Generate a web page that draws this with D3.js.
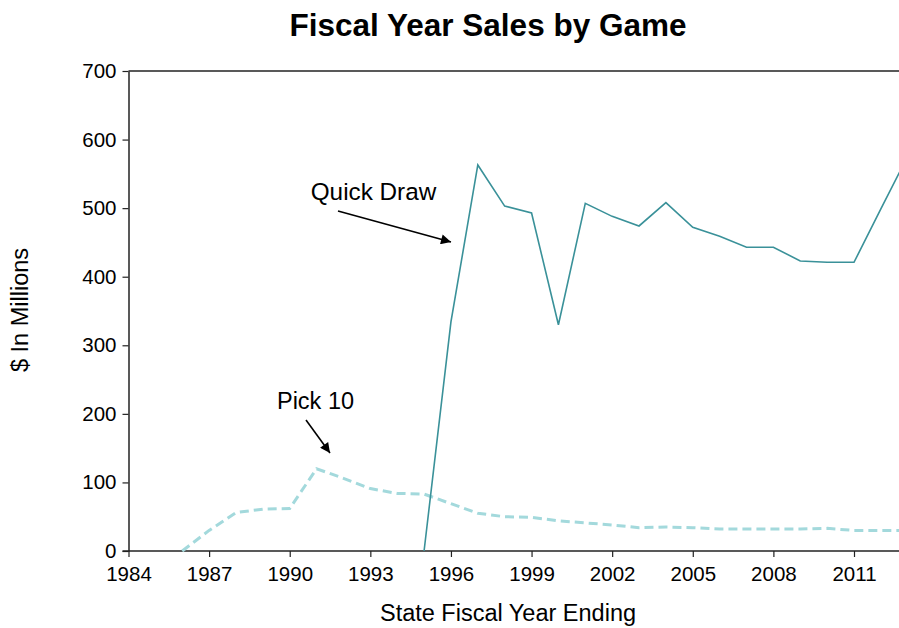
<!DOCTYPE html>
<html>
<head>
<meta charset="utf-8">
<script src="https://cdn.jsdelivr.net/npm/d3@7"></script>
<style>
  html, body { margin: 0; padding: 0; background: #fff; }
  svg { display: block; }
  text { font-family: "Liberation Sans", Arial, sans-serif; fill: #000; }
</style>
</head>
<body>
<svg id="chart" width="899" height="628"></svg>
<script>
// ---- data ----
const quickDrawYears  = [1995, 1996, 1997, 1998, 1999, 2000, 2001, 2002, 2003, 2004, 2005, 2006, 2007, 2008, 2009, 2010, 2011, 2012, 2013];
const quickDrawValues = [0, 334, 563, 503, 493, 330, 507, 488, 474, 508, 472, 459, 443, 443, 423, 421, 421, 499, 576];

const pick10Years  = [1986, 1987, 1988, 1989, 1990, 1991, 1992, 1993, 1994, 1995, 1996, 1997, 1998, 1999, 2000, 2001, 2002, 2003, 2004, 2005, 2006, 2007, 2008, 2009, 2010, 2011, 2012, 2013];
const pick10Values = [0, 30, 56, 61, 62, 120, 106, 91, 84, 83, 69, 55, 50, 49, 44, 41, 38, 34, 35, 34, 32, 32, 32, 32, 33, 30, 30, 30];

const xTickValues = [1984, 1987, 1990, 1993, 1996, 1999, 2002, 2005, 2008, 2011];
const yTickValues = [0, 100, 200, 300, 400, 500, 600, 700];

const titleText = "Fiscal Year Sales by Game";
const xTitle = "State Fiscal Year Ending";
const yTitle = "$ In Millions";

// ---- layout ----
const W = 899, H = 628;
const svg = d3.select("#chart");

const x = d3.scaleLinear().domain([1984, 2011]).range([128.5, 854]);
const y = d3.scaleLinear().domain([0, 700]).range([551, 71]);

svg.append("defs").append("clipPath").attr("id", "plotclip")
  .append("rect").attr("x", 128).attr("y", 60).attr("width", W - 128).attr("height", 500);

// top border
svg.append("line")
  .attr("x1", x(1984)).attr("x2", W)
  .attr("y1", y(700)).attr("y2", y(700))
  .attr("stroke", "#222").attr("stroke-width", 1.3);

// y axis
const yAxis = svg.append("g")
  .attr("transform", `translate(${x(1984)},0)`)
  .call(d3.axisLeft(y).tickValues(yTickValues).tickSize(6).tickSizeOuter(0).tickPadding(6));
yAxis.select(".domain").attr("stroke", "#222").attr("stroke-width", 1.5);
yAxis.selectAll(".tick line").attr("stroke", "#222").attr("stroke-width", 1.2);
yAxis.selectAll(".tick text").style("font-size", "20.5px").style("font-family", "'Liberation Sans', Arial, sans-serif").attr("fill", "#000");

// x axis
const xAxis = svg.append("g")
  .attr("transform", `translate(0,${y(0)})`)
  .call(d3.axisBottom(x).tickValues(xTickValues).tickFormat(d3.format("d")).tickSize(6).tickSizeOuter(0).tickPadding(9));
xAxis.select(".domain").remove();
xAxis.append("line").attr("x1", x(1984) - 6).attr("x2", W).attr("y1", 0).attr("y2", 0)
  .attr("stroke", "#222").attr("stroke-width", 1.5);
xAxis.selectAll(".tick line").attr("stroke", "#222").attr("stroke-width", 1.2);
xAxis.selectAll(".tick text").style("font-size", "20.5px").style("font-family", "'Liberation Sans', Arial, sans-serif").attr("fill", "#000");

// lines
const plot = svg.append("g").attr("clip-path", "url(#plotclip)");
const pick10 = pick10Years.map((yr, i) => [yr, pick10Values[i]]);
const quick = quickDrawYears.map((yr, i) => [yr, quickDrawValues[i]]);
const line = d3.line().x(d => x(d[0])).y(d => y(d[1]));

plot.append("path").datum(pick10)
  .attr("d", line)
  .attr("fill", "none")
  .attr("stroke", "#a3d9dc")
  .attr("stroke-width", 3)
  .attr("stroke-dasharray", "9,5");

plot.append("path").datum(quick)
  .attr("d", line)
  .attr("fill", "none")
  .attr("stroke", "#3a9199")
  .attr("stroke-width", 1.6)
  .attr("stroke-linejoin", "miter");

// arrow marker
svg.select("defs").append("marker")
  .attr("id", "arrow").attr("viewBox", "0 0 10 10")
  .attr("refX", 10).attr("refY", 5)
  .attr("markerWidth", 12).attr("markerHeight", 10)
  .attr("markerUnits", "userSpaceOnUse")
  .attr("orient", "auto")
  .append("path").attr("d", "M0,0 L10,5 L0,10 z").attr("fill", "#000");

// annotations
svg.append("text").attr("x", 373.5).attr("y", 200).attr("text-anchor", "middle")
  .style("font-size", "24.3px").text("Quick Draw");
svg.append("line").attr("x1", 338).attr("y1", 211).attr("x2", 451).attr("y2", 242)
  .attr("stroke", "#000").attr("stroke-width", 1.6).attr("marker-end", "url(#arrow)");

svg.append("text").attr("x", 315.5).attr("y", 409).attr("text-anchor", "middle")
  .style("font-size", "23.5px").text("Pick 10");
svg.append("line").attr("x1", 306).attr("y1", 420).attr("x2", 330).attr("y2", 453)
  .attr("stroke", "#000").attr("stroke-width", 1.6).attr("marker-end", "url(#arrow)");

// titles
svg.append("text").attr("x", 488).attr("y", 36).attr("text-anchor", "middle")
  .style("font-size", "31.5px").style("font-weight", "bold").text(titleText);
svg.append("text").attr("x", 508).attr("y", 621).attr("text-anchor", "middle")
  .style("font-size", "23.5px").text(xTitle);
svg.append("text").attr("transform", "translate(28,310) rotate(-90)").attr("text-anchor", "middle")
  .style("font-size", "23.5px").text(yTitle);
</script>
</body>
</html>
